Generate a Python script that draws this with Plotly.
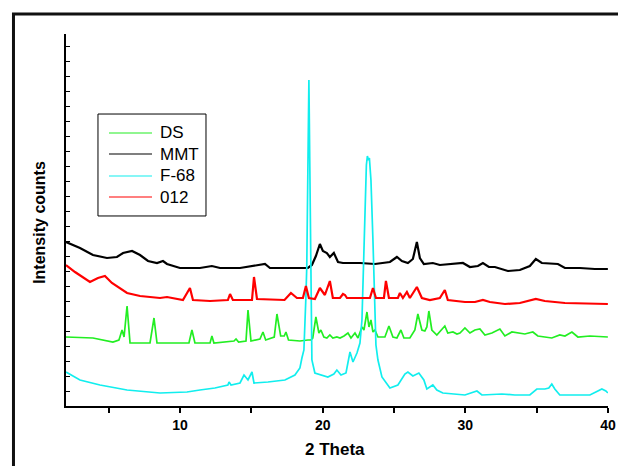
import plotly.graph_objects as go

# ---- data (2-theta in degrees, intensity in arbitrary counts) ----
mmt_x = [2.0, 2.98, 3.89, 4.87, 5.57, 6.0, 6.63, 7.19, 7.75, 8.38, 8.80, 9.08, 9.99, 11.39,
         12.23, 12.8, 14.2, 15.95, 16.3, 18.40, 18.96, 19.24, 19.52, 19.80, 20.01, 20.29, 20.50,
         20.78, 21.07, 21.42, 22.61, 23.66, 24.71, 25.20, 25.55, 25.97, 26.32, 26.60, 26.81,
         27.09, 27.72, 28.21, 28.9, 29.83, 30.32, 30.88, 31.23, 31.65, 32.07, 32.98, 33.82,
         34.52, 34.94, 35.36, 36.49, 36.98, 38.03, 39.08, 39.99]
mmt_y = [164, 158, 151, 148, 149, 153, 155, 151, 145, 143, 145, 142, 138, 138,
         140, 138, 138, 142, 138, 138, 138, 141, 150, 162, 155, 153, 149,
         153, 144, 143, 143, 142, 144, 149, 145, 143, 147, 164, 148,
         142, 143, 141, 142, 143, 139, 140, 143, 139, 139, 135, 136,
         140, 147, 143, 142, 138, 138, 137, 137]

o12_x = [2.0, 2.63, 3.68, 4.24, 4.73, 5.22, 6.28, 7.19, 8.59, 9.08, 10.20, 10.69, 10.90, 12.1,
         13.35, 13.50, 13.7, 15.04, 15.18, 15.39, 17.32, 17.77, 18.19, 18.61, 18.82, 19.03,
         19.45, 19.80, 20.15, 20.50, 20.71, 21.21, 21.42, 21.56, 21.70, 23.31, 23.52, 23.73,
         24.29, 24.43, 24.64, 25.27, 25.41, 25.62, 25.90, 26.11, 26.60, 26.95, 27.51, 28.21,
         28.56, 28.77, 29.97, 30.67, 31.23, 31.72, 32.77, 33.82, 34.94, 35.57, 36.98, 39.99]
o12_y = [141, 134, 124, 128, 130, 123, 113, 110, 108, 109, 106, 118, 106, 105,
         106, 112, 106, 106, 129, 107, 106, 113, 108, 108, 120, 108,
         107, 118, 111, 125, 108, 108, 112, 111, 108, 108, 118, 108,
         108, 125, 108, 108, 113, 108, 114, 108, 119, 108, 106, 108,
         116, 106, 104, 104, 106, 104, 102, 103, 107, 105, 103, 102]

ds_x = [2.0, 3.89, 5.29, 5.71, 5.78, 5.93, 6.07, 6.28, 6.49, 7.89, 8.17, 8.38, 10.62, 10.83,
        11.04, 12.1, 12.23, 12.37, 13.78, 13.92, 14.1, 14.62, 14.76, 14.97, 15.6, 15.81, 16.0,
        16.6, 16.79, 17.05, 17.3, 17.42, 17.6, 18.4, 18.96, 19.17, 19.3, 19.52, 19.73, 19.87,
        20.08, 20.29, 20.50, 20.71, 20.99, 21.21, 21.49, 21.77, 21.98, 22.26, 22.47, 22.75,
        22.89, 23.10, 23.24, 23.38, 23.52, 23.66, 23.87, 24.36, 24.64, 24.92, 25.2, 25.48,
        25.69, 26.11, 26.46, 26.67, 26.95, 27.16, 27.30, 27.44, 27.65, 28.0, 28.56, 28.77,
        29.13, 29.41, 29.62, 29.97, 30.32, 30.67, 31.02, 31.37, 31.86, 32.42, 32.77, 33.26,
        34.17, 34.73, 35.08, 36.06, 36.62, 36.98, 37.47, 37.89, 38.73, 39.99]
ds_y = [69, 68, 64, 66, 69, 76, 69, 100, 63, 63, 88, 63, 63, 76,
        63, 63, 70, 63, 65, 67, 64, 65, 96, 65, 67, 74, 66,
        69, 92, 70, 70, 74, 66, 65, 66, 66, 68, 89, 73, 76,
        69, 68, 71, 68, 69, 68, 70, 73, 68, 73, 68, 79,
        76, 94, 79, 86, 74, 76, 69, 69, 80, 69, 68, 76,
        68, 68, 76, 92, 76, 75, 79, 95, 76, 71, 80, 73,
        74, 72, 73, 78, 73, 76, 77, 71, 73, 77, 70, 74,
        72, 74, 70, 68, 71, 70, 74, 69, 70, 69]

f68_x = [2.0, 2.98, 4.38, 6.28, 8.59, 10.48, 11.39, 12.44, 13.35, 13.43, 13.57, 14.2, 14.48,
         14.76, 15.04, 15.18, 16.16, 17.35, 18.05, 18.40, 18.54, 18.68, 18.82, 18.88, 19.03,
         19.2, 19.24, 19.45, 20.36, 20.78, 20.99, 21.28, 21.63, 21.91, 22.12, 22.40, 22.61,
         22.75, 22.85, 22.96, 23.06, 23.13, 23.20, 23.27, 23.38, 23.52, 23.62, 23.73, 23.87,
         24.15, 24.71, 25.27, 25.76, 25.97, 26.32, 26.74, 27.09, 27.30, 27.72, 28.0, 28.42,
         29.97, 30.81, 31.16, 32.56, 33.47, 34.52, 35.01, 35.57, 35.85, 36.06, 36.27, 36.62,
         38.73, 39.29, 39.57, 39.85, 39.99]
f68_y = [34, 26, 21, 16, 13, 14, 16, 18, 21, 24, 21, 23, 31,
         26, 34, 23, 24, 26, 31, 38, 48, 56, 109, 139, 326,
         139, 46, 33, 29, 32, 36, 31, 33, 54, 44, 53, 63,
         86, 139, 196, 241, 250, 246, 248, 226, 166, 116, 61, 46,
         29, 18, 21, 32, 34, 30, 33, 26, 17, 21, 16, 13,
         11, 15, 11, 12, 11, 11, 17, 17, 18, 22, 17, 11,
         11, 15, 17, 15, 13]

x_tick_vals = [10, 20, 30, 40]
x_tick_text = ["10", "20", "30", "40"]

legend_names = ["DS", "MMT", "F-68", "012"]
legend_colors = ["#22ee22", "#000000", "#11eeee", "#ff0000"]

FONT = "Arial, Liberation Sans, sans-serif"

fig = go.Figure()
series = [(ds_x, ds_y, 1.7), (mmt_x, mmt_y, 2.2), (f68_x, f68_y, 1.7), (o12_x, o12_y, 2.2)]
for (sx, sy, w), name, col in zip(series, legend_names, legend_colors):
    fig.add_trace(go.Scatter(x=sx, y=sy, mode="lines", name=name,
                             line=dict(color=col, width=w), showlegend=False))

# legend drawn by hand (box, sample lines, labels)
shapes = [
    dict(type="rect", xref="paper", yref="paper", x0=0.0590, x1=0.2583,
         y0=0.5108, y1=0.7849, line=dict(color="black", width=1), fillcolor="white",
         layer="above"),
    # outer frame of the figure
    dict(type="rect", xref="paper", yref="paper", x0=-0.0969, x1=1.04,
         y0=-0.2, y1=1.0538, line=dict(color="#111111", width=3), layer="above"),
]
annotations = [
    dict(text="<b>2 Theta</b>", xref="paper", yref="paper", x=0.496, y=-0.118,
         xanchor="center", yanchor="middle", showarrow=False,
         font=dict(size=17, family=FONT)),
    dict(text="<b>Intensity counts</b>", xref="paper", yref="paper", x=-0.0480, y=0.495,
         xanchor="center", yanchor="middle", textangle=-90, showarrow=False,
         font=dict(size=16, family=FONT)),
]
row_y = [0.7339, 0.6774, 0.6183, 0.5618]
for name, col, ry in zip(legend_names, legend_colors, row_y):
    shapes.append(dict(type="line", xref="paper", yref="paper", x0=0.0793, x1=0.1587,
                       y0=ry, y1=ry, line=dict(color=col, width=1.2), layer="above"))
    annotations.append(dict(text=name, xref="paper", yref="paper", x=0.1697, y=ry,
                            xanchor="left", yanchor="middle", showarrow=False,
                            font=dict(size=17, family=FONT)))

fig.update_layout(
    width=618, height=466,
    margin=dict(l=66, r=10, t=34, b=60, autoexpand=False),
    paper_bgcolor="white", plot_bgcolor="white",
    font=dict(family=FONT, color="black"),
    showlegend=False,
    xaxis=dict(range=[2, 40], tickvals=x_tick_vals, ticktext=x_tick_text,
               ticks="outside", ticklen=5, tickwidth=1.5, tickcolor="black",
               minor=dict(tickvals=[5, 15, 25, 35], ticks="outside", ticklen=5,
                          tickwidth=1.5, tickcolor="black"),
               showline=True, linecolor="black", linewidth=2,
               showgrid=False, zeroline=False, automargin=False,
               tickfont=dict(size=14, family=FONT, weight="bold")),
    yaxis=dict(range=[0, 372], dtick=15, tick0=0, ticks="inside", ticklen=4,
               tickwidth=1, tickcolor="black", showticklabels=False,
               showline=True, linecolor="black", linewidth=2,
               showgrid=False, zeroline=False, automargin=False),
    annotations=annotations,
    shapes=shapes,
)

fig.write_html("out.html", config={"displayModeBar": False},
               post_script="document.body.style.margin='0';")
